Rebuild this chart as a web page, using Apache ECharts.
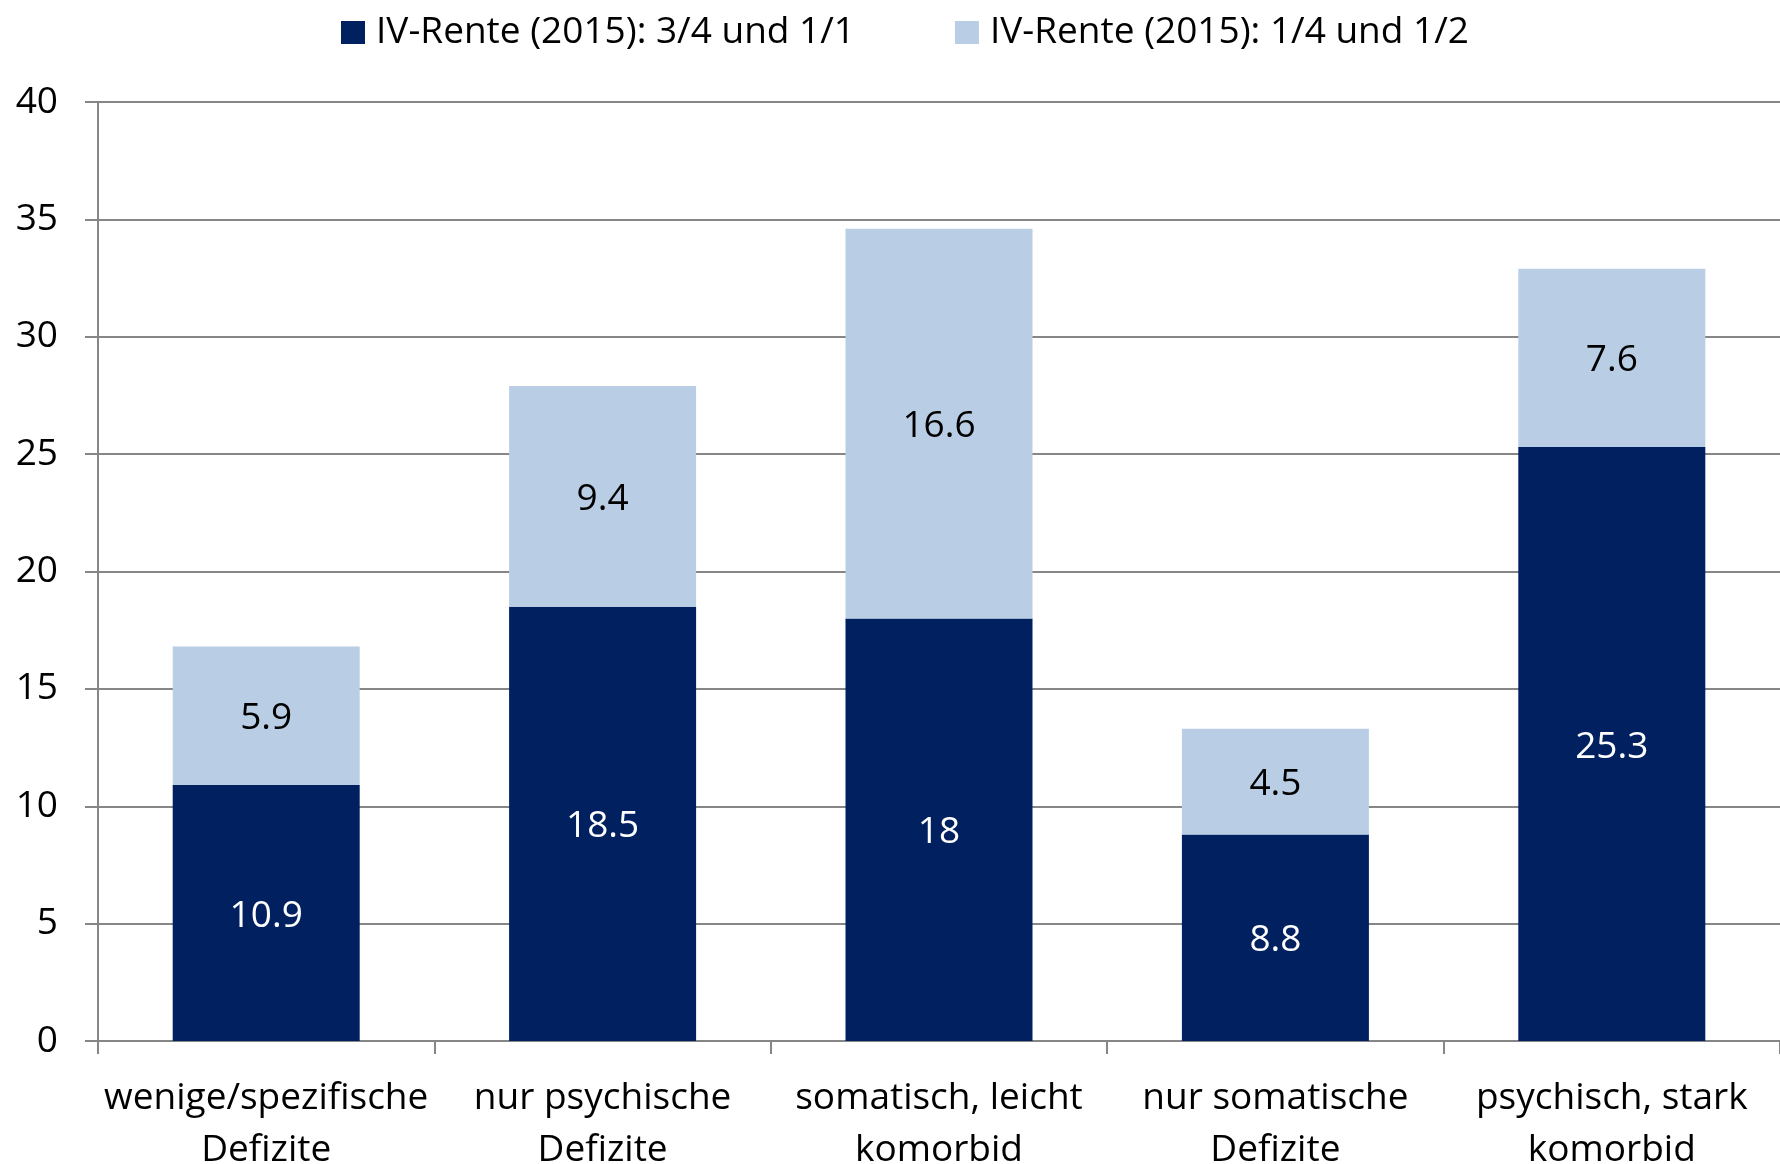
<!DOCTYPE html>
<html>
<head>
<meta charset="utf-8">
<script src="https://cdn.jsdelivr.net/npm/echarts@6/dist/echarts.min.js"></script>
<style>
html,body{margin:0;padding:0;background:#fff;}
#chart{width:1780px;height:1164px;}
</style>
</head>
<body>
<div id="chart"></div>
<script>
var categories = ["wenige/spezifische\nDefizite", "nur psychische\nDefizite", "somatisch, leicht\nkomorbid", "nur somatische\nDefizite", "psychisch, stark\nkomorbid"];
var seriesNames = ["IV-Rente (2015): 3/4 und 1/1", "IV-Rente (2015): 1/4 und 1/2"];
var severe = [10.9, 18.5, 18, 8.8, 25.3];
var partial = [5.9, 9.4, 16.6, 4.5, 7.6];
var yTicks = [0, 5, 10, 15, 20, 25, 30, 35, 40];

var FONT = "Open Sans";
var FS = 37;
var chart = echarts.init(document.getElementById('chart'));
chart.setOption({
  backgroundColor: '#ffffff',
  animation: false,
  textStyle: { fontFamily: FONT },
  legend: {
    top: 9,
    left: 336,
    itemWidth: 24,
    itemHeight: 23,
    itemGap: 100,
    icon: 'rect',
    textStyle: { fontFamily: FONT, fontSize: FS, color: '#000', padding: [0, 0, 0, 6] },
    data: seriesNames
  },
  grid: { left: 98, right: 0, top: 102, bottom: 123, containLabel: false, outerBoundsMode: 'none' },
  xAxis: {
    type: 'category',
    data: categories,
    axisLine: { lineStyle: { color: '#868686', width: 2 } },
    axisTick: { show: true, length: 13, lineStyle: { color: '#868686', width: 2 } },
    axisLabel: { fontFamily: FONT, fontSize: FS, color: '#000', margin: 31, lineHeight: 52, interval: 0 }
  },
  yAxis: {
    type: 'value',
    min: 0, max: 40, interval: 5,
    axisLine: { show: true, lineStyle: { color: '#868686', width: 2 } },
    axisTick: { show: true, length: 13, lineStyle: { color: '#868686', width: 2 } },
    splitLine: { lineStyle: { color: '#868686', width: 2 } },
    axisLabel: {
      fontFamily: FONT, fontSize: FS, color: '#000', margin: 40,
      formatter: function (v) { return yTicks.indexOf(v) >= 0 ? String(v) : ''; }
    }
  },
  series: [
    {
      name: seriesNames[0], type: 'bar', stack: 'total', data: severe,
      barWidth: 187,
      itemStyle: { color: '#00205F' },
      label: { show: true, position: 'inside', color: '#ffffff', fontFamily: FONT, fontSize: FS, offset: [0, 3] }
    },
    {
      name: seriesNames[1], type: 'bar', stack: 'total', data: partial,
      barWidth: 187,
      itemStyle: { color: '#B9CDE5' },
      label: { show: true, position: 'inside', color: '#000000', fontFamily: FONT, fontSize: FS, offset: [0, 3] }
    }
  ]
});
</script>
</body>
</html>
